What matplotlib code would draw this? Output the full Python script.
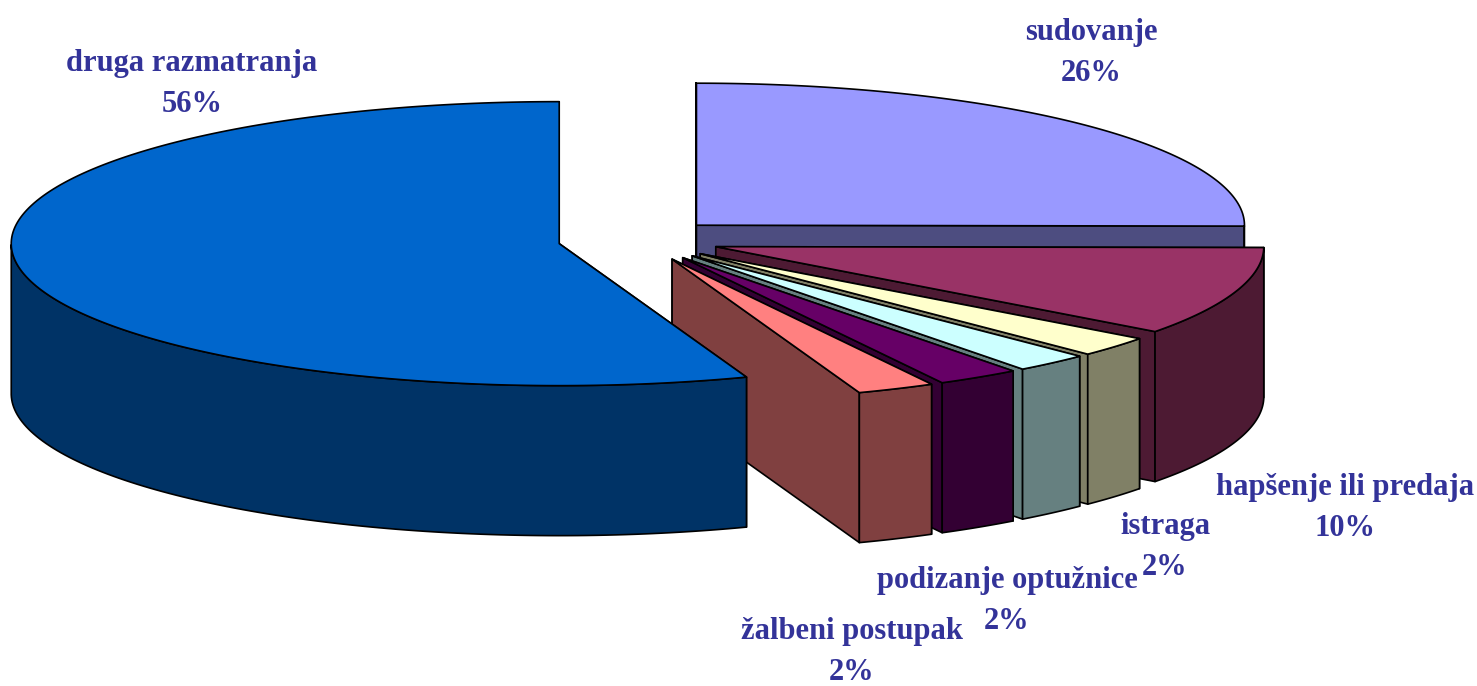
import numpy as np
import matplotlib
matplotlib.use('Agg')
import matplotlib.pyplot as plt
from matplotlib.patches import Polygon

# data, clockwise from 12 o'clock
names = ['sudovanje', 'hapšenje ili predaja', 'bez naziva', 'istraga',
         'podizanje optužnice', 'žalbeni postupak', 'druga razmatranja']
values = [25.1, 10.1, 2.3, 2.2, 2.45, 2.3, 55.55]
top_colors = ['#9999ff', '#993366', '#ffffcc', '#ccffff', '#660066', '#ff8080', '#0066cc']
side_colors = ['#4d4d80', '#4d1a33', '#808066', '#668080', '#330033', '#804040', '#003366']

label_names = ['druga razmatranja', 'sudovanje', 'hapšenje ili predaja',
               'istraga', 'podizanje optužnice', 'žalbeni postupak']
label_texts = ['56%', '26%', '10%', '2%', '2%', '2%']
label_x = [192, 1091, 1345, 1165, 1007, 852]
label_base = [71, 40, 495, 534, 588, 639]
line_gap = 41

# pie geometry in pixels
cx, cy = 639, 240
rx, ry = 548, 142
depth = 150
explode = 81


def pt(x0, y0, ang):
    return x0 + rx * np.sin(ang), y0 - ry * np.cos(ang)


fig = plt.figure(figsize=(14.77, 6.86), dpi=100)
ax = fig.add_axes([0, 0, 1, 1])
ax.set_xlim(0, 1477)
ax.set_ylim(686, 0)
ax.axis('off')

angles = np.cumsum([0] + values) / sum(values) * 2 * np.pi
style = dict(edgecolor='black', linewidth=1.2, joinstyle='round')

for i in range(len(values)):
    a0, a1 = angles[i], angles[i + 1]
    mid = (a0 + a1) / 2
    x0 = cx + explode * np.sin(mid)
    y0 = cy - explode * ry / rx * np.cos(mid)
    arc = np.linspace(a0, a1, 200)
    ax_, ay_ = pt(x0, y0, arc)

    # flat cut faces, only the ones turned to the viewer
    for a in (a0, a1):
        ex, ey = pt(x0, y0, a)
        face = [(x0, y0), (ex, ey), (ex, ey + depth), (x0, y0 + depth)]
        ax.add_patch(Polygon(face, closed=True, facecolor=side_colors[i], zorder=i * 3 + 1, **style))

    # outer wall, front half only
    front = np.cos(arc) < 0
    if front.any():
        wx, wy = ax_[front], ay_[front]
        wall = np.column_stack([np.r_[wx, wx[::-1]], np.r_[wy, wy[::-1] + depth]])
        ax.add_patch(Polygon(wall, closed=True, facecolor=side_colors[i], zorder=i * 3 + 2, **style))

    top = np.column_stack([np.r_[x0, ax_], np.r_[y0, ay_]])
    ax.add_patch(Polygon(top, closed=True, facecolor=top_colors[i], zorder=i * 3 + 3, **style))

# name and percent as separate texts so the boxes stay tight
font = dict(ha='center', va='baseline', color='#333399', family='Liberation Serif',
            weight='bold', fontsize=22, zorder=50)
for n, t, x, y in zip(label_names, label_texts, label_x, label_base):
    ax.text(x, y, n, **font)
    ax.text(x, y + line_gap, t, **font)

fig.savefig('out.png', dpi=100)
